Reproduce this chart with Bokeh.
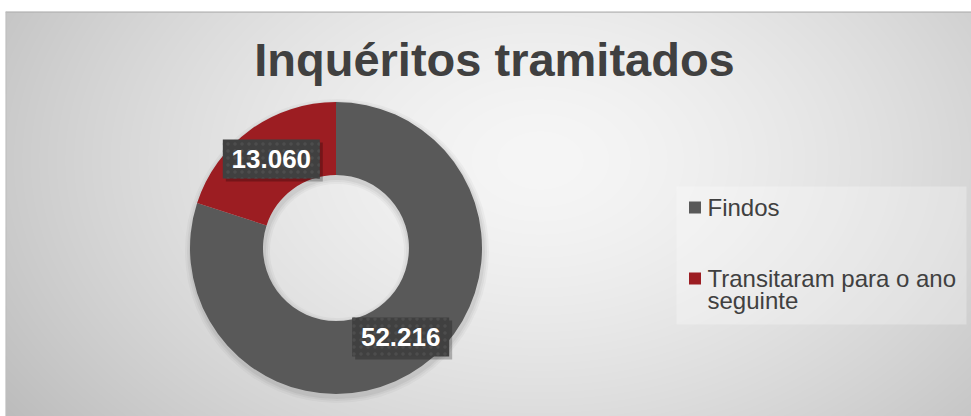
import textwrap
import numpy as np
from bokeh.plotting import figure
from bokeh.models import Range1d, ColumnDataSource
from bokeh.core.properties import value
from bokeh.embed import file_html
from bokeh.resources import INLINE

# ---- data ----
title_text = "Inquéritos tramitados"
categories = ["Findos", "Transitaram para o ano seguinte"]
values = [52216, 13060]
colors = ["#595959", "#9C1D22"]

# ---- layout (pixels, 1 data unit = 1 px) ----
W, H, TOP, LEFT = 971, 416, 11, 5
FW, FH = W - LEFT, H - TOP
def rx(x):  # reference window x -> data x
    return x - LEFT
def ry(y):  # reference window y -> data y
    return H - y

cx, cy = rx(335.5), ry(247.5)
R_OUT, R_IN = 146, 73
FONT = "Liberation Sans"

p = figure(width=W, height=H, output_backend="svg", toolbar_location=None,
           x_range=Range1d(0, FW), y_range=Range1d(0, FH),
           x_axis_type=None, y_axis_type=None,
           min_border_left=LEFT, min_border_right=0, min_border_bottom=0,
           min_border_top=TOP)
p.grid.visible = False
p.outline_line_color = None
p.border_fill_color = "white"
p.background_fill_color = "#dcdcdc"

# background gradient
xs = np.arange(FW) + 0.5
ys = np.arange(FH) + 0.5
X, Y = np.meshgrid(xs, ys)
RX = X + LEFT
RY = H - Y
r = np.sqrt(((RX - 540) / 560) ** 2 + ((RY - 160) / 380) ** 2)
v = np.clip(246 - 46 * np.minimum(r, 1.3) ** 1.5, 0, 255).astype(np.uint32)
img = (255 << 24) | (v << 16) | (v << 8) | v
p.image_rgba(image=[img.astype(np.uint32)], x=0, y=0, dw=FW, dh=FH)

# top / left border lines
p.line(x=[0, FW], y=[FH - 0.5, FH - 0.5], line_color="#b5b5b5", line_width=1.5)
p.line(x=[0.5, 0.5], y=[0, FH], line_color="#bdbdbd", line_width=1)

# ---- donut ----
vals = np.array(values, dtype=float)
frac = vals / vals.sum()
cum_end = np.cumsum(frac)
cum_start = cum_end - frac
start = np.deg2rad(90 - cum_end * 360)
end = np.deg2rad(90 - cum_start * 360)
mid = (start + end) / 2

src = ColumnDataSource(dict(start=start, end=end, color=colors, cat=categories))
# soft shadow
for k, a in [(6, 0.03), (4, 0.04), (2, 0.05)]:
    p.annular_wedge(x=cx + 1, y=cy - 3, inner_radius=R_IN - k, outer_radius=R_OUT + k,
                    start_angle=0, end_angle=2 * np.pi, fill_color="black",
                    fill_alpha=a, line_color=None,
                    inner_radius_units="screen", outer_radius_units="screen")
p.annular_wedge(x=cx, y=cy, inner_radius=R_IN, outer_radius=R_OUT,
                start_angle="start", end_angle="end", fill_color="color",
                line_color=None, source=src,
                inner_radius_units="screen", outer_radius_units="screen")

# ---- data labels ----
lr = (R_IN + R_OUT) / 2 + 0.5
lx = cx + lr * np.cos(mid)
ly = cy + lr * np.sin(mid)
lab = [f"{int(x):,}".replace(",", ".") for x in values]
lsrc = ColumnDataSource(dict(x=lx, y=ly, sx=lx + 3, sy=ly - 3, t=lab))
p.rect(x="sx", y="sy", width=97, height=39, width_units="screen", height_units="screen",
       fill_color="black", fill_alpha=0.25, line_color=None, source=lsrc)
p.rect(x="x", y="y", width=97, height=39, width_units="screen", height_units="screen",
       fill_color="#404040", line_color=None, source=lsrc,
       hatch_pattern="dot", hatch_color="#4d4d4d", hatch_scale=7, hatch_weight=2)
p.text(x="x", y="y", text="t", source=lsrc, text_color="white",
       text_font=value(FONT), text_font_style="bold", text_font_size="26px",
       text_align="center", text_baseline="middle")

# ---- title ----
p.text(x=[rx(494)], y=[ry(59)], text=[title_text], text_color="#404040",
       text_font=value(FONT), text_font_style="bold", text_font_size="47px",
       text_align="center", text_baseline="middle")

# ---- legend ----
p.rect(x=[(rx(676) + rx(966)) / 2], y=[(ry(186) + ry(324)) / 2], width=290, height=138,
       fill_color="white", fill_alpha=0.28, line_color=None)
leg_y0 = ry(207)
leg_step = 71
sq_x = rx(694.5)
tx = rx(707)
line_h = 22
for i, (cat, col) in enumerate(zip(categories, colors)):
    yc = leg_y0 - i * leg_step
    p.rect(x=[sq_x], y=[yc], width=12, height=12, width_units="screen",
           height_units="screen", fill_color=col, line_color=None)
    lines = textwrap.wrap(cat, 22)
    p.text(x=[tx] * len(lines), y=[yc - k * line_h for k in range(len(lines))],
           text=lines, text_color="#404040", text_font=value(FONT),
           text_font_size="24px", text_align="left", text_baseline="middle")

open("out.html", "w").write(file_html(p, INLINE))
